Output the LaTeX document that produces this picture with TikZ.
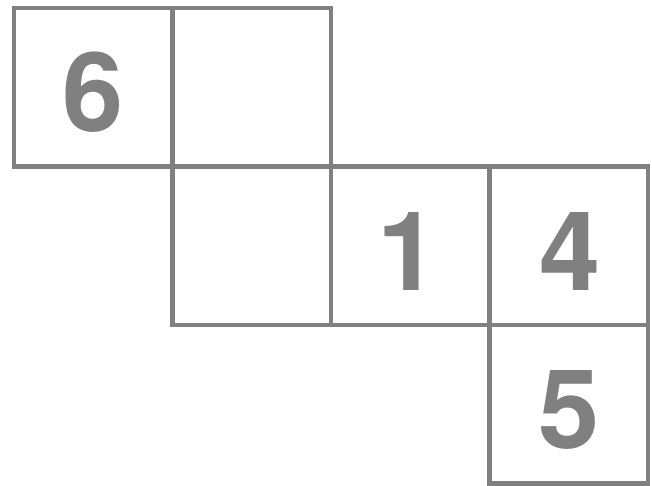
\documentclass[tikz,border=0pt]{standalone}
\usepackage{fontspec}
\setmainfont{TeX Gyre Heros}
\definecolor{netgray}{HTML}{808080}
\begin{document}
\begin{tikzpicture}[x=1pt,y=-1pt,
  cell/.style={draw=netgray,line width=4.8pt,minimum size=158.5pt,inner sep=0pt,outer sep=0pt},
  digit/.style={text=netgray,inner sep=0pt,anchor=base,font=\fontsize{110}{110}\selectfont\bfseries}]
\useasboundingbox (0,0) rectangle (652,485);
\node[cell] (c1) at (93.2,87.2) {};
\node[cell] (c2) at (251.7,87.2) {};
\node[cell] (c3) at (251.7,245.7) {};
\node[cell] (c4) at (410.2,245.7) {};
\node[cell] (c5) at (568.7,245.7) {};
\node[cell] (c6) at (568.7,404.2) {};
\node[digit] (d6) at (93.2,131.5) {6};
\node[digit] (d1) at (408.5,290) {1};
\node[digit] (d4) at (570,290) {4};
\node[digit] (d5) at (569.5,448.5) {5};
\end{tikzpicture}
\end{document}
